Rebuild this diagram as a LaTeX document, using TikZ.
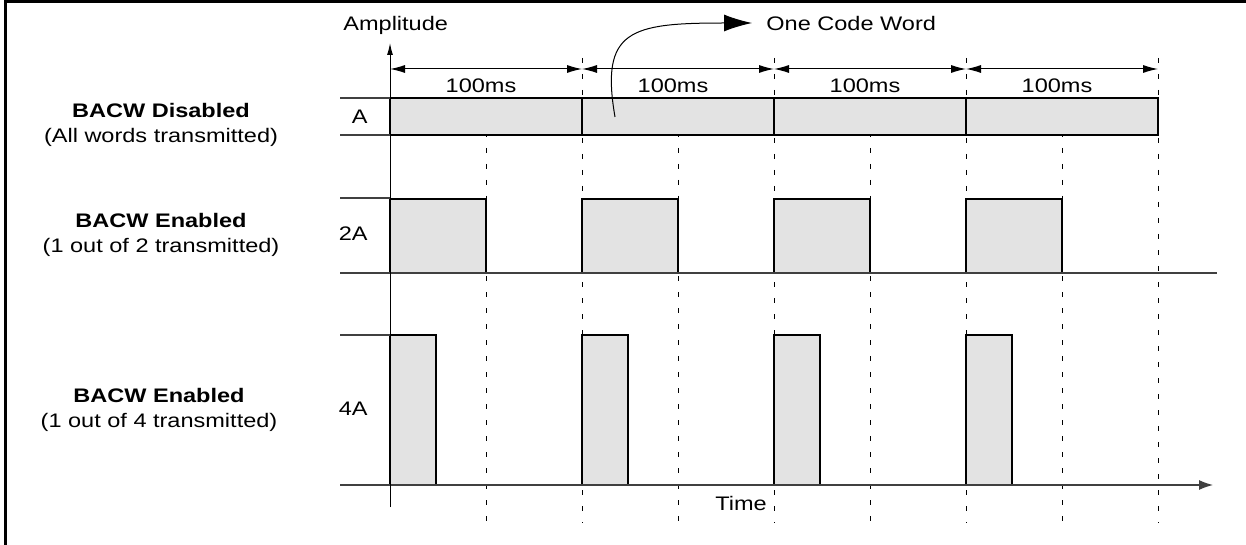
\documentclass[tikz,border=0pt]{standalone}
\usepackage{fontspec}
\setmainfont[FakeStretch=1.2]{Liberation Sans}
\usetikzlibrary{arrows.meta}
\usetikzlibrary{positioning}
\tikzset{
    frame/.style = {line width=1.5pt},
    grid/.style = {dash pattern=on 2.5pt off 5.5pt,line width=0.5pt},
    base/.style = {draw=black!75,line width=0.6pt},
    word/.style = {draw,line width=0.6pt,fill=black!11},
    span/.style = {line width=0.5pt,{Latex[length=7.5pt,width=4pt]}-{Latex[length=7.5pt,width=4pt]}},
    timeaxis/.style = {base,-{Latex[length=7pt,width=5pt]}},
    ampaxis/.style = {line width=0.5pt,-{Latex[length=6pt,width=3pt]}},
    pointer/.style = {line width=0.5pt,-{Latex[length=14pt,width=8.5pt]}},
    txt/.style = {font=\fontsize{9.8}{12}\selectfont,inner sep=0pt},
    desc/.style = {txt,align=center,font=\fontsize{9.8}{12.5}\selectfont}
}
\begin{document}
\begin{tikzpicture}[x=0.5pt,y=-0.5pt]
        \newcommand*\per{192}
        \newcommand*\half{96}
        \useasboundingbox (0,0) rectangle (1246,545);
        % Frame
        \draw[frame] (5,545) -- (5,2) -- (1246,2);
        % Descriptions
        \node[desc] (dA) at (161,125) {\textbf{BACW Disabled}\\(All words transmitted)};
        \node[desc] (d2A) at (161,235) {\textbf{BACW Enabled}\\(1 out of 2 transmitted)};
        \node[desc] (d4A) at (159,410) {\textbf{BACW Enabled}\\(1 out of 4 transmitted)};
        % Levels
        \node[txt,anchor=east] (lA) at (368,117) {A};
        \node[txt,anchor=east] (l2A) at (368,234) {2A};
        \node[txt,anchor=east] (l4A) at (368,409) {4A};
        % Axes
        \path (390,507) coordinate (orig)
            to (390,43) coordinate (ampend)
        ;
        \path (340,485) coordinate (tstart)
            to (1213,485) coordinate (tend)
        ;
        \node[txt,anchor=west] (amp) at (343,25) {Amplitude};
        \node[txt] (time) at (741,503) {Time};
        % Grid
        \foreach \i in {0,...,3} {
            \pgfmathsetmacro\xs{390+\i*\per}
            \pgfmathsetmacro\xh{390+\i*\per+\half}
            \pgfmathsetmacro\xe{390+(\i+1)*\per}
            \draw[grid] (\xh,100) -- (\xh,523);
            \draw[grid] (\xe,58) -- (\xe,523);
            % code words
            \draw[word] (\xs,98) rectangle (\xe,135);
            \draw[word] (\xs,199) rectangle (\xh,273);
            \draw[word] (\xs,335) rectangle (\xs+46,485);
            \coordinate (p\i) at (\xs,69);
        }
        \coordinate (p4) at (1158,69);
        % Periods
        \foreach \a/\b in {0/1,1/2,2/3,3/4}
            \draw[span] (p\a) to node[txt,below=4.5pt,xshift=-2.5pt] (ms\a) {100ms} (p\b);
        % Levels lines
        \draw[base] (340,98) -- (390,98) (340,135) -- (390,135);
        \draw[base] (340,198) -- (390,198);
        \draw[base] (340,273) -- (1217,273);
        \draw[base] (340,335) -- (390,335);
        \draw[timeaxis] (tstart) to (tend);
        \draw[ampaxis] (orig) to (ampend);
        % One code word
        \node[txt,anchor=west,inner xsep=7pt] (cw) at (752,23) {One Code Word};
        \coordinate (cwstart) at (615,117);
        \draw[pointer] (cwstart) .. controls (600,30) and (630,23) .. (cw.west);
\end{tikzpicture}
\end{document}
